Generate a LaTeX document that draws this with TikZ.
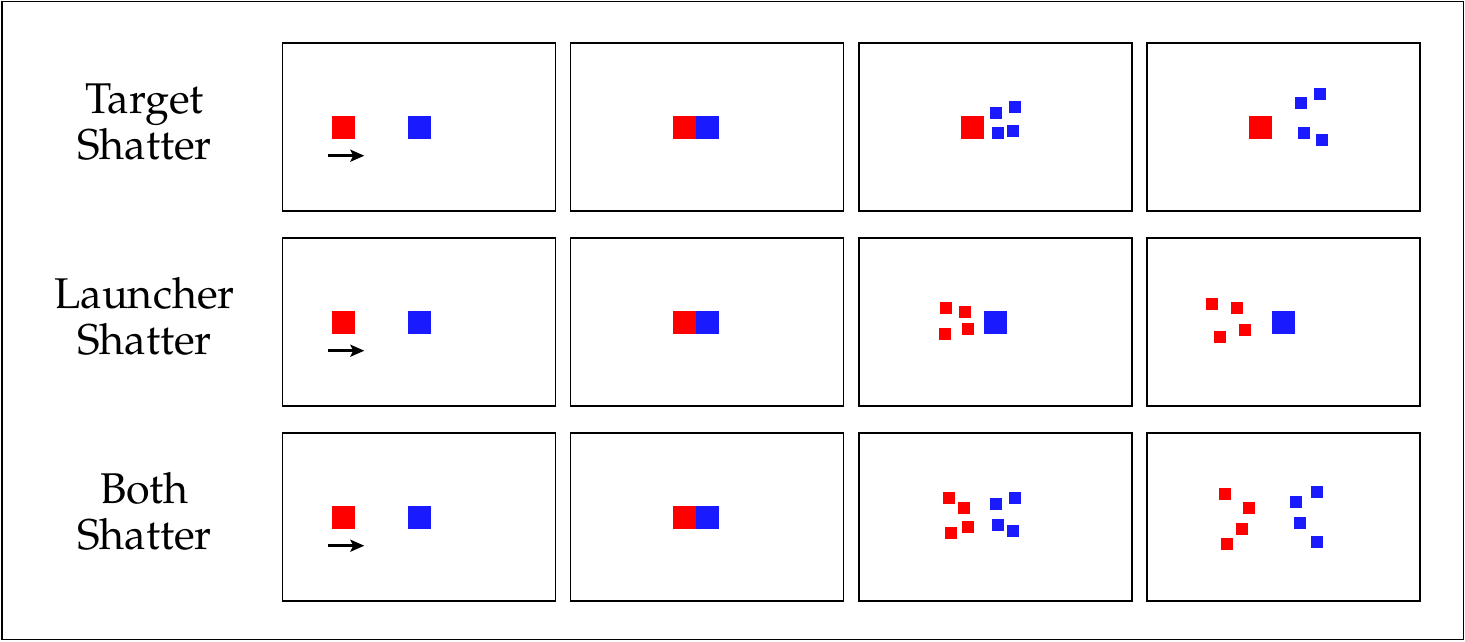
\documentclass[tikz,border=0pt]{standalone}
\usepackage[T1]{fontenc}
\renewcommand{\rmdefault}{ppl}
\usetikzlibrary{calc,arrows.meta}
\definecolor{sqred}{RGB}{255,0,0}
\definecolor{sqblue}{RGB}{26,26,255}
\begin{document}
\begin{tikzpicture}[x=1pt,y=-1pt,
  frame/.style={draw=black,line width=1.5pt,minimum width=1461.5pt,minimum height=638pt,inner sep=0pt},
  panel/.style={draw=black,line width=1.4pt,minimum width=273pt,minimum height=168pt,inner sep=0pt},
  bigr/.style={fill=sqred,minimum size=23pt,inner sep=0pt},
  bigb/.style={fill=sqblue,minimum size=23pt,inner sep=0pt},
  smr/.style={fill=sqred,minimum size=12pt,inner sep=0pt},
  smb/.style={fill=sqblue,minimum size=12pt,inner sep=0pt},
  lbl/.style={align=center,font=\fontsize{43}{46}\selectfont,anchor=base,inner sep=0pt},
  mv/.style={line width=2.6pt,-{Stealth[length=14pt,width=12pt,inset=3pt]}}]
\useasboundingbox (0,0) rectangle (1465,641);
\node[frame] (outer) at (732.75,320.5) {};
% panels
\foreach \r/\yy in {1/127,2/322,3/517}{
  \foreach \c/\xx in {1/419,2/707.2,3/995.4,4/1283.6}{
    \node[panel] (p\r\c) at (\xx,\yy) {};
  }
}
% labels (anchor base = baseline of last line)
\node[lbl] (l1) at (144.5,159) {Target\\Shatter};
\node[lbl] (l2) at (144.5,354) {Launcher\\Shatter};
\node[lbl] (l3) at (144.5,549) {Both\\Shatter};
% first two columns
\foreach \r in {1,2,3}{
  \node[bigr] (a\r1) at ($(p\r1)+(-75.5,0)$) {};
  \node[bigb] (b\r1) at (p\r1) {};
  \coordinate (s\r) at ($(p\r1)+(-91.3,28.7)$);
  \coordinate (e\r) at ($(p\r1)+(-54.7,28.7)$);
  \draw[mv] (s\r) -- (e\r);
  \node[bigr] (a\r2) at ($(p\r2)+(-23,0)$) {};
  \node[bigb] (b\r2) at (p\r2) {};
}
% row 1: target shatter
\node[bigr] (a13) at ($(p13)+(-23,0)$) {};
\foreach \dx/\dy [count=\i] in {0.5/-14.5,20/-20.5,2.5/6,17.5/3.7}
  \node[smb] (b13\i) at ($(p13)+(\dx,\dy)$) {};
\node[bigr] (a14) at ($(p14)+(-23,0)$) {};
\foreach \dx/\dy [count=\i] in {16.9/-24.2,36.2/-33,20.5/6.3,38/13}
  \node[smb] (b14\i) at ($(p14)+(\dx,\dy)$) {};
% row 2: launcher shatter
\node[bigb] (b23) at (p23) {};
\foreach \dx/\dy [count=\i] in {-49.3/-13.7,-30.2/-9.8,-50.2/11.6,-27.3/7.1}
  \node[smr] (a23\i) at ($(p23)+(\dx,\dy)$) {};
\node[bigb] (b24) at (p24) {};
\foreach \dx/\dy [count=\i] in {-72.1/-18.2,-46.6/-13.7,-63.7/14.6,-38.2/8.3}
  \node[smr] (a24\i) at ($(p24)+(\dx,\dy)$) {};
% row 3: both shatter
\foreach \dx/\dy [count=\i] in {-46.8/-18.9,-31.3/-8.6,-44.3/16.3,-27.3/9.8}
  \node[smr] (a33\i) at ($(p33)+(\dx,\dy)$) {};
\foreach \dx/\dy [count=\i] in {0.5/-12.8,19.9/-18.9,2.5/7.6,17.8/14.3}
  \node[smb] (b33\i) at ($(p33)+(\dx,\dy)$) {};
\foreach \dx/\dy [count=\i] in {-58.8/-23.2,-34.8/-8.6,-41.7/12.1,-56.8/26.7}
  \node[smr] (a34\i) at ($(p34)+(\dx,\dy)$) {};
\foreach \dx/\dy [count=\i] in {12.2/-14.9,33.7/-25.2,16.5/5.6,33.7/24.7}
  \node[smb] (b34\i) at ($(p34)+(\dx,\dy)$) {};
\end{tikzpicture}
\end{document}
